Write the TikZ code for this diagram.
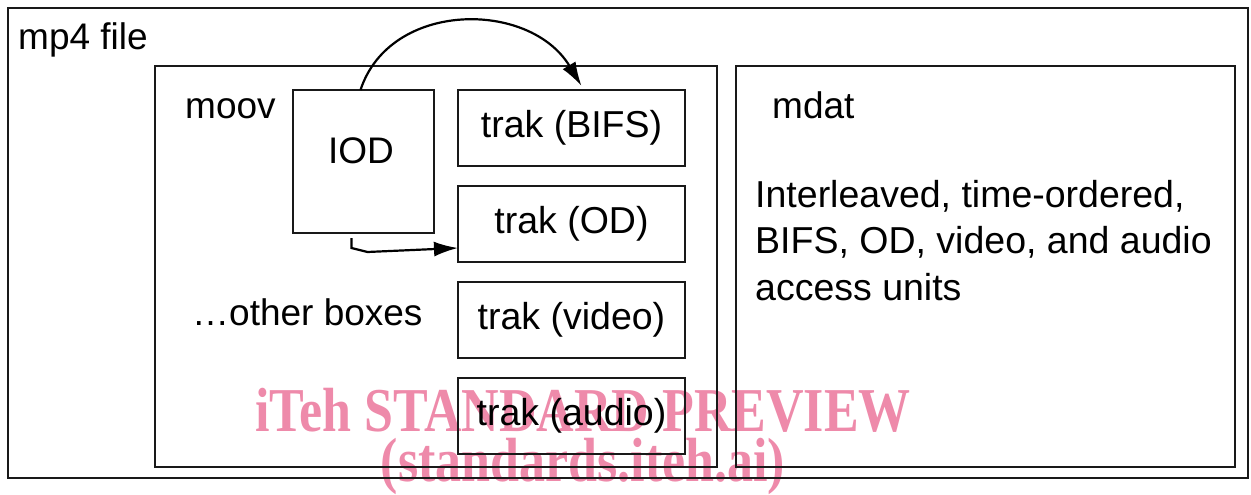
\documentclass[tikz,border=0pt]{standalone}
\usepackage{fontspec}
\setmainfont{Liberation Sans}
\newfontfamily\wmfont{Liberation Serif}
\usepackage{tikz}
\usetikzlibrary{arrows.meta, positioning, calc}
\definecolor{wmpink}{HTML}{EE8AAA}

\begin{document}
\begin{tikzpicture}[
  x=1pt, y=-1pt,
  box/.style={draw=black!90, line width=2.4pt, anchor=north west, inner sep=0pt, outer sep=0pt},
  trakbox/.style={box, minimum width=227pt, minimum height=76pt,
                  font=\fontsize{37.5}{44}\selectfont},
  lbl/.style={anchor=base west, inner sep=0pt, font=\fontsize{37}{44}\selectfont},
  wm/.style={text=wmpink, font=\wmfont\bfseries\fontsize{52}{60}\selectfont, inner sep=0pt},
  arr/.style={-{Latex[length=24pt, width=15pt]}, line width=2.2pt}
]
  \useasboundingbox (0,0) rectangle (1251,495);

  % Watermark (behind everything)
  \node[wm, yscale=1.2, anchor=base] (wm1) at (583,431) {iTeh STANDARD PREVIEW};
  \node[wm, yscale=1.2, anchor=base] (wm2) at (583,481) {(standards.iteh.ai)};

  % Outer file
  \node[box, minimum width=1240pt, minimum height=470pt] (file) at (8,8) {};
  \node[lbl] (filelbl) at (18,50) {mp4 file};

  % moov and mdat
  \node[box, minimum width=562pt, minimum height=401pt] (moov) at (155,66) {};
  \node[lbl] (moovlbl) at (185,118) {moov};
  \node[box, minimum width=499pt, minimum height=401pt] (mdat) at (736,66) {};
  \node[lbl] (mdatlbl) at (772,118) {mdat};
  \node[lbl, align=left, anchor=north west, font=\fontsize{37.5}{46.5}\selectfont]
    (mdattxt) at (755,180) {Interleaved, time-ordered,\\BIFS, OD, video, and audio\\access units};

  % Boxes inside moov
  \node[box, minimum width=141pt, minimum height=143pt] (iod) at (293,90) {};
  \node[lbl, anchor=base] (iodlbl) at (361,163) {IOD};
  \node[lbl] (other) at (192,325) {\dots other boxes};

  \node[trakbox] (bifs) at (458,90) {trak (BIFS)};
  \node[trakbox, below=20pt of bifs.south west, anchor=north west] (od) {trak (OD)};
  \node[trakbox, below=20pt of od.south west, anchor=north west] (video) {trak (video)};
  \node[trakbox, below=20pt of video.south west, anchor=north west] (audio) {trak (audio)};

  % Arrows
  \draw[arr] ([xshift=-3pt]iod.north) .. controls (390,0) and (530,0) .. ([xshift=10pt,yshift=4pt]bifs.north);
  \draw[arr] ([xshift=-12pt,yshift=-5pt]iod.south) -- ++(0,10) -- ++(16,4) -- ([yshift=-24pt]od.west);
\end{tikzpicture}
\end{document}
